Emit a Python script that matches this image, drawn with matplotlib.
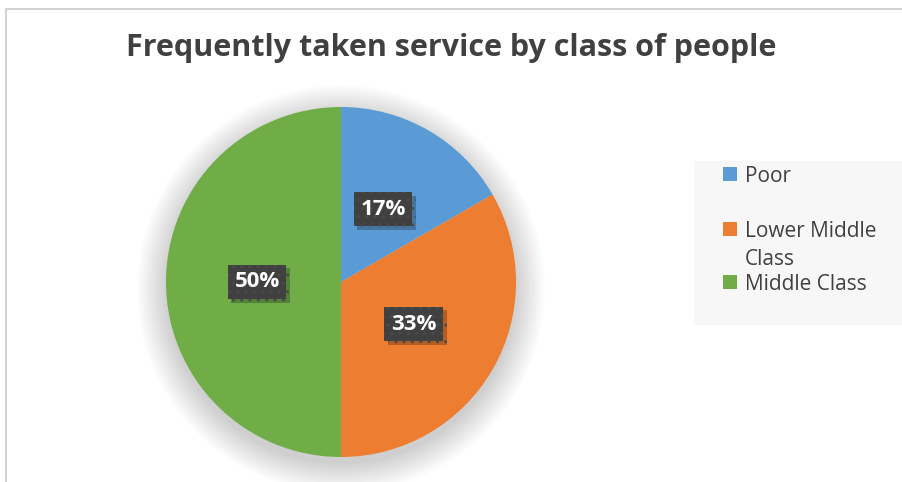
import numpy as np
import matplotlib.pyplot as plt
import matplotlib.patheffects as pe
from matplotlib.patches import Circle, Rectangle

categories = ['Poor', 'Lower Middle Class', 'Middle Class']
legend_labels = ['Poor', 'Lower Middle\nClass', 'Middle Class']
values = [1, 2, 3]
colors = ['#5B9BD5', '#ED7D31', '#70AD47']
title = 'Frequently taken service by class of people'

W, H = 903, 482
fig = plt.figure(figsize=(W / 100, H / 100), dpi=100)
fig.patch.set_facecolor('white')

# chart border (left and top visible)
fig.add_artist(Rectangle((6 / W, -0.1), 1.2, (H - 9) / H + 0.1,
                         transform=fig.transFigure, fill=False,
                         edgecolor='#C9C9C9', linewidth=1.2))

# pie axes: centre (341, 282), radius 175 px
r_px = 175
lim = 1.4
cx, cy = 341, 282
half = r_px * lim
ax = fig.add_axes([(cx - half) / W, (H - cy - half) / H, 2 * half / W, 2 * half / H])

# soft shadow behind the pie
for i in range(16):
    rr = 1.0 + 0.011 * i
    ax.add_patch(Circle((0, -0.04), rr, facecolor='black', edgecolor='none',
                        alpha=0.013, zorder=0))

wedges, texts, autotexts = ax.pie(values, colors=colors, startangle=90,
                                  counterclock=False, autopct='%.0f%%',
                                  pctdistance=0.48, radius=1,
                                  wedgeprops=dict(linewidth=0),
                                  textprops=dict(color='white', fontsize=16,
                                                 fontweight='bold', family='Open Sans'))
for w in wedges:
    w.set_zorder(2)
for t in autotexts:
    t.set_zorder(5)
    t.set_bbox(dict(boxstyle='square,pad=0.3', facecolor='#404040',
                    edgecolor='#4A4A4A', linewidth=0, hatch='..'))
    t.get_bbox_patch().set_path_effects([
        pe.SimplePatchShadow(offset=(2.5, -2.5), shadow_rgbFace='black', alpha=0.25),
        pe.Normal()])
ax.set_xlim(-lim, lim)
ax.set_ylim(-lim, lim)
ax.set_aspect('equal')
ax.axis('off')

fig.text(0.5, (H - 48) / H, title, ha='center', va='center', fontsize=22,
         fontweight='bold', family='Open Sans', color='#404040')

# legend panel
fig.add_artist(Rectangle((694 / W, (H - 325) / H), (W - 694) / W + 0.01, 164 / H,
                         transform=fig.transFigure, facecolor='#F7F7F7',
                         edgecolor='none'))
ys = [174, 229, 282]
for lab, col, yy in zip(legend_labels, colors, ys):
    fig.add_artist(Rectangle((723 / W, (H - yy - 7) / H), 14 / W, 14 / H,
                             transform=fig.transFigure, facecolor=col,
                             edgecolor='none'))
    for k, ln in enumerate(lab.split('\n')):
        fig.text(745 / W, (H - yy - 28 * k) / H, ln, ha='left', va='center_baseline',
                 fontsize=15, family='Open Sans', color='#404040')

fig.savefig('out.png', dpi=100)
